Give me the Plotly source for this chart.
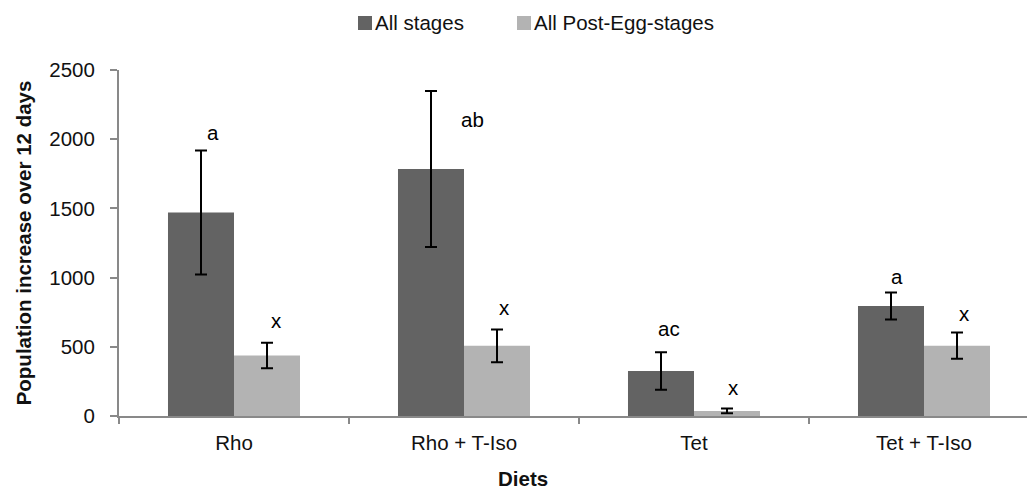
import plotly.graph_objects as go

# Diet treatments and population increase over 12 days (mean ± error)
diets = ["Rho", "Rho + T-Iso", "Tet", "Tet + T-Iso"]
all_stages = [1470, 1785, 325, 795]
all_stages_err = [448, 563, 136, 97]
post_egg = [437, 507, 37, 508]
post_egg_err = [92, 118, 18, 95]

# Significance letters per bar
letters_all = ["a", "ab", "ac", "a"]
letters_post = ["x", "x", "x", "x"]

# Pixel offsets of the letters from the top of each error bar (dx right, dy up)
letter_dx_all = [12, 41, 8, 6]
letter_dy_all = [15, -31, 21, 13]
letter_dx_post = [9, 7, 6, 7]
letter_dy_post = [19, 19, 18, 16]

DARK = "#636363"
LIGHT = "#b3b3b3"
AXIS = "#898989"
TEXT = "#111111"
FONT = "Liberation Sans, Arial, sans-serif"
FS = 20.5

W, H = 1027, 490
M_L, M_R, M_T, M_B = 119, 0, 70, 74
CAT_PX = 230  # width of one category in pixels
plot_w = W - M_L - M_R
plot_h = H - M_T - M_B
x_hi = -0.5 + plot_w / CAT_PX
BAR_HALF_OFF = 33  # px from category centre to bar centre

fig = go.Figure()
fig.add_trace(go.Bar(
    x=diets, y=all_stages, name="All stages",
    marker=dict(color=DARK, line=dict(width=0)),
    error_y=dict(type="data", array=all_stages_err, color="black", thickness=2, width=6),
))
fig.add_trace(go.Bar(
    x=diets, y=post_egg, name="All Post-Egg-stages",
    marker=dict(color=LIGHT, line=dict(width=0)),
    error_y=dict(type="data", array=post_egg_err, color="black", thickness=2, width=6),
))

annotations = []
for i, d in enumerate(diets):
    annotations.append(dict(
        x=d, y=all_stages[i] + all_stages_err[i], xref="x", yref="y",
        text=letters_all[i], showarrow=False,
        xshift=-BAR_HALF_OFF + letter_dx_all[i], yshift=letter_dy_all[i] + 3,
        xanchor="center", yanchor="middle",
        font=dict(family=FONT, size=FS, color="black"),
    ))
    annotations.append(dict(
        x=d, y=post_egg[i] + post_egg_err[i], xref="x", yref="y",
        text=letters_post[i], showarrow=False,
        xshift=BAR_HALF_OFF + letter_dx_post[i], yshift=letter_dy_post[i] + 3,
        xanchor="center", yanchor="middle",
        font=dict(family=FONT, size=FS, color="black"),
    ))

# Legend drawn as squares plus labels across the top
legend_items = [("All stages", DARK, 358), ("All Post-Egg-stages", LIGHT, 517)]
shapes = []
for label, col, px in legend_items:
    x0 = (px - M_L) / plot_w
    x1 = (px + 14 - M_L) / plot_w
    y_c = 1 + (M_T - 23) / plot_h
    half = 7 / plot_h
    shapes.append(dict(type="rect", xref="paper", yref="paper",
                       x0=x0, x1=x1, y0=y_c - half, y1=y_c + half,
                       fillcolor=col, line=dict(width=0)))
    annotations.append(dict(
        x=(px + 15 - M_L) / plot_w, y=y_c, xref="paper", yref="paper",
        text=label, showarrow=False, xanchor="left", yanchor="middle",
        font=dict(family=FONT, size=FS, color=TEXT),
    ))

# x-axis title placed under the category labels
annotations.append(dict(
    x=0.5, y=-(478 - (M_T + plot_h)) / plot_h, xref="paper", yref="paper",
    xanchor="center", yanchor="middle", showarrow=False,
    text="Diets", xshift=(W / 2 - M_L - plot_w / 2) + 9,
    font=dict(family=FONT, size=FS, color=TEXT, weight="bold"),
))

fig.update_layout(
    width=W, height=H,
    margin=dict(l=M_L, r=M_R, t=M_T, b=M_B, autoexpand=False),
    paper_bgcolor="white", plot_bgcolor="white",
    barmode="group", bargap=0.426, bargroupgap=0,
    showlegend=False,
    font=dict(family=FONT, size=FS, color=TEXT),
    annotations=annotations, shapes=shapes,
)
fig.update_xaxes(
    range=[-0.5, x_hi], type="category",
    showline=True, linecolor=AXIS, linewidth=2,
    ticks="outside", tickson="boundaries", ticklen=6, tickcolor=AXIS, tickwidth=2,
    ticklabelstandoff=7,
    tickfont=dict(family=FONT, size=FS, color=TEXT),
    showgrid=False, zeroline=False,
)
fig.update_yaxes(
    range=[0, 2500], dtick=500,
    showline=True, linecolor=AXIS, linewidth=2,
    ticks="outside", ticklen=7, tickcolor=AXIS, tickwidth=2,
    ticklabelstandoff=11,
    tickfont=dict(family=FONT, size=FS, color=TEXT),
    showgrid=False, zeroline=False,
    title=dict(text="Population increase over 12 days",
               font=dict(family=FONT, size=FS, color=TEXT, weight="bold"), standoff=12),
)

fig.write_html("out.html")
